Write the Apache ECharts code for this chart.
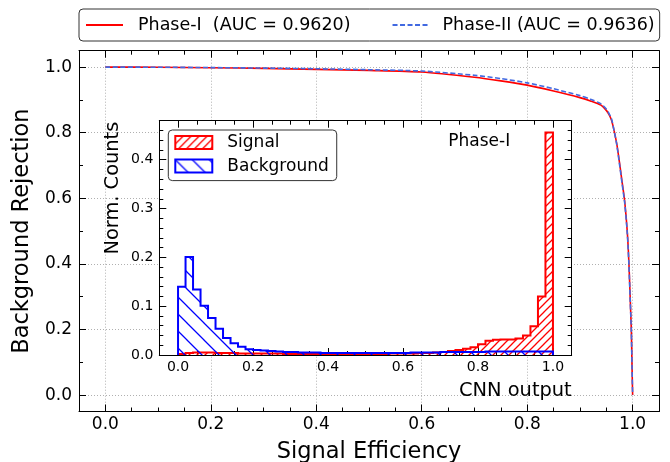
<!DOCTYPE html>
<html>
<head>
<meta charset="utf-8">
<script src="https://cdn.jsdelivr.net/npm/echarts@6/dist/echarts.min.js"></script>
<style>
html,body{margin:0;padding:0;background:#fff;}
#chart{width:670px;height:462px;}
</style>
</head>
<body>
<div id="chart"></div>
<script>
// ---------- DATA ----------
const rocEffPhase1 = [0, 0.1, 0.2, 0.3, 0.4, 0.5, 0.6, 0.7, 0.75, 0.8, 0.85, 0.9, 0.92, 0.94, 0.95, 0.955, 0.96, 0.965, 0.97, 0.975, 0.98, 0.985, 0.99, 0.993, 0.9955, 0.9975, 0.9988, 1.0];
const rocRejPhase1 = [1.0, 0.9995, 0.998, 0.996, 0.993, 0.990, 0.985, 0.969, 0.958, 0.945, 0.927, 0.907, 0.897, 0.884, 0.868, 0.856, 0.838, 0.805, 0.765, 0.71, 0.65, 0.59, 0.494, 0.40, 0.29, 0.20, 0.09, 0.0];
const rocEffPhase2 = [0, 0.1, 0.2, 0.3, 0.4, 0.5, 0.6, 0.7, 0.75, 0.8, 0.85, 0.9, 0.92, 0.94, 0.95, 0.955, 0.96, 0.965, 0.97, 0.975, 0.98, 0.985, 0.99, 0.993, 0.9955, 0.9975, 0.9988, 1.0];
const rocRejPhase2 = [1.0, 0.9996, 0.9985, 0.997, 0.995, 0.992, 0.988, 0.975, 0.965, 0.952, 0.934, 0.913, 0.902, 0.888, 0.872, 0.859, 0.842, 0.805, 0.763, 0.705, 0.645, 0.585, 0.49, 0.395, 0.285, 0.195, 0.088, 0.0];
const seriesNames = ['Phase-I  (AUC = 0.9620)', 'Phase-II (AUC = 0.9636)'];

const binWidth = 0.02; // 50 bins on [0,1]
const signalCounts = [
  0.002, 0.004, 0.005, 0.005, 0.005, 0.004, 0.004, 0.004, 0.003, 0.003,
  0.003, 0.003, 0.003, 0.003, 0.002, 0.002, 0.002, 0.002, 0.002, 0.002,
  0.002, 0.002, 0.002, 0.002, 0.002, 0.002, 0.002, 0.002, 0.003, 0.003,
  0.003, 0.003, 0.004, 0.004, 0.005, 0.006, 0.008, 0.010, 0.013, 0.016,
  0.022, 0.029, 0.031, 0.032, 0.032, 0.034, 0.040, 0.059, 0.120, 0.456
];
const backgroundCounts = [
  0.140, 0.201, 0.134, 0.101, 0.076, 0.054, 0.035, 0.024, 0.017, 0.012,
  0.010, 0.009, 0.008, 0.007, 0.006, 0.006, 0.005, 0.005, 0.005, 0.004,
  0.004, 0.004, 0.004, 0.004, 0.004, 0.004, 0.004, 0.004, 0.004, 0.004,
  0.004, 0.005, 0.005, 0.005, 0.005, 0.006, 0.006, 0.006, 0.006, 0.006,
  0.006, 0.007, 0.007, 0.007, 0.007, 0.007, 0.007, 0.007, 0.007, 0.007
];
const histNames = ['Signal', 'Background'];
const insetTag = 'Phase-I';
const axisTitles = {mainX: 'Signal Efficiency', mainY: 'Background Rejection', insetX: 'CNN output', insetY: 'Norm. Counts'};

// ---------- HELPERS ----------
function pairs(xs, ys){ return xs.map((x,i)=>[x, ys[i]]); }
function stepPoints(counts){
  const pts = [[0,0]];
  counts.forEach((c,i)=>{
    const x0 = +(i*binWidth).toFixed(4), x1 = +((i+1)*binWidth).toFixed(4);
    pts.push([x0, c]); pts.push([x1, c]);
  });
  pts.push([1, 0]);
  return pts;
}
function hatch(color, s, forward){
  const c = document.createElement('canvas');
  c.width = s; c.height = s;
  const ctx = c.getContext('2d');
  ctx.strokeStyle = color; ctx.lineWidth = 1.3;
  ctx.beginPath();
  if (forward){
    ctx.moveTo(-1, s+1); ctx.lineTo(s+1, -1);
    ctx.moveTo(-s/2-1, s/2+1); ctx.lineTo(s/2+1, -s/2-1);
    ctx.moveTo(s/2-1, s*1.5+1); ctx.lineTo(s*1.5+1, s/2-1);
  } else {
    ctx.moveTo(-1, -1); ctx.lineTo(s+1, s+1);
    ctx.moveTo(-s/2-1, s/2-1); ctx.lineTo(s/2+1, s*1.5+1);
    ctx.moveTo(s/2-1, -s/2-1); ctx.lineTo(s*1.5+1, s/2+1);
  }
  ctx.stroke();
  return {image: c, repeat: 'repeat'};
}
const redHatch = hatch('#ff0000', 8, true);
const blueHatch = hatch('#0000ff', 17, false);
const FONT = 'DejaVu Sans';

function fmt(step){
  return v => (Math.abs(v/step - Math.round(v/step)) < 1e-6) ? v.toFixed(1) : '';
}
const gridLine = {show:true, lineStyle:{color:'#b0b0b0', width:1, type:[1,2]}};
function axisBase(extra){
  return Object.assign({
    type:'value', splitNumber:5,
    axisLine:{show:true, onZero:false, lineStyle:{color:'#000', width:1}},
    axisTick:{show:true, inside:true, length:7, lineStyle:{color:'#000', width:1}},
    minorTick:{show:true, length:4, lineStyle:{color:'#000', width:1}},
    splitLine:{show:false}
  }, extra);
}
function histSeries(name, counts, color, pattern, z){
  const pts = stepPoints(counts);
  return {
    name, type:'custom', xAxisIndex:2, yAxisIndex:2, z,
    data:[[0, 0]], itemStyle:{color},
    renderItem:(params, api) => {
      const px = pts.map(p => api.coord(p));
      return {type:'group', children:[
        {type:'polygon', shape:{points:px}, style:{fill:pattern, stroke:null}},
        {type:'polyline', shape:{points:px}, style:{fill:null, stroke:color, lineWidth:2, lineJoin:'miter'}}
      ]};
    }
  };
}

const chart = echarts.init(document.getElementById('chart'), null, {renderer:'canvas'});
const option = {
  animation:false,
  textStyle:{fontFamily:FONT},
  grid:[
    {left:79, top:50.7, width:580, height:360.8, show:false, z:0, containLabel:false, outerBoundsMode:'none'},
    {left:159.3, top:120.7, width:412.4, height:234.3, show:true, backgroundColor:'#fff', borderWidth:0, z:10, containLabel:false, outerBoundsMode:'none'}
  ],
  xAxis:[
    axisBase({gridIndex:0, position:'bottom', min:-0.05, max:1.05,
      minorTick:{show:true, splitNumber:4, length:4, lineStyle:{color:'#000'}},
      splitLine:gridLine,
      axisLabel:{show:true, fontSize:17, color:'#000', margin:5, fontFamily:FONT, formatter:fmt(0.2)},
      name:axisTitles.mainX, nameLocation:'middle', nameGap:29,
      nameTextStyle:{fontSize:22.5, color:'#000', fontFamily:FONT}}),
    axisBase({gridIndex:0, position:'top', min:-0.05, max:1.05,
      minorTick:{show:true, splitNumber:4, length:4, lineStyle:{color:'#000'}},
      axisLabel:{show:false}}),
    axisBase({gridIndex:1, position:'bottom', min:-0.05, max:1.05, z:11,
      minorTick:{show:true, splitNumber:4, length:4, lineStyle:{color:'#000'}},
      axisLabel:{show:true, fontSize:14, color:'#000', margin:5, fontFamily:FONT, formatter:fmt(0.2)},
      name:axisTitles.insetX, nameLocation:'end', nameGap:0,
      nameTextStyle:{fontSize:19.4, color:'#000', fontFamily:FONT, align:'right', verticalAlign:'top', padding:[26,0,0,0]}}),
    axisBase({gridIndex:1, position:'top', min:-0.05, max:1.05, z:11,
      minorTick:{show:true, splitNumber:4, length:4, lineStyle:{color:'#000'}},
      axisLabel:{show:false}})
  ],
  yAxis:[
    axisBase({gridIndex:0, position:'left', min:-0.05, max:1.05,
      minorTick:{show:true, splitNumber:2, length:4, lineStyle:{color:'#000'}},
      splitLine:gridLine,
      axisLabel:{show:true, fontSize:17, color:'#000', margin:7, fontFamily:FONT, formatter:fmt(0.2)},
      name:axisTitles.mainY, nameLocation:'middle', nameGap:37,
      nameTextStyle:{fontSize:22.5, color:'#000', fontFamily:FONT}}),
    axisBase({gridIndex:0, position:'right', min:-0.05, max:1.05,
      minorTick:{show:true, splitNumber:2, length:4, lineStyle:{color:'#000'}},
      axisLabel:{show:false}}),
    axisBase({gridIndex:1, position:'left', min:0, max:0.48, z:11,
      minorTick:{show:true, splitNumber:5, length:4, lineStyle:{color:'#000'}},
      axisLabel:{show:true, fontSize:14, color:'#000', margin:6, fontFamily:FONT, formatter:fmt(0.1)}}),
    axisBase({gridIndex:1, position:'right', min:0, max:0.48, z:11,
      minorTick:{show:true, splitNumber:5, length:4, lineStyle:{color:'#000'}},
      axisLabel:{show:false}})
  ],
  legend:[
    {
      left:79, top:9, orient:'horizontal', padding:[7,5,7,6],
      itemWidth:37, itemHeight:14, itemGap:41,
      borderColor:'#333', borderWidth:1, borderRadius:4, backgroundColor:'#fff',
      textStyle:{fontSize:17.5, color:'#000', fontFamily:FONT, padding:[0,0,0,10]},
      data:[
        {name:seriesNames[0], itemStyle:{opacity:0}},
        {name:seriesNames[1], itemStyle:{opacity:0}, textStyle:{padding:[0,0,0,8]}}
      ]
    },
    {
      left:168.3, top:130, orient:'vertical', padding:[4,8,6,6], z:20,
      itemWidth:37, itemHeight:13, itemGap:6.6,
      borderColor:'#333', borderWidth:1, borderRadius:4, backgroundColor:'#fff',
      textStyle:{fontSize:17, color:'#000', fontFamily:FONT, padding:[0,0,0,10]},
      data:[
        {name:histNames[0], icon:'rect', itemStyle:{color:redHatch, borderColor:'#ff0000', borderWidth:2}},
        {name:histNames[1], icon:'rect', itemStyle:{color:blueHatch, borderColor:'#0000ff', borderWidth:2}}
      ]
    }
  ],
  graphic:[
    {type:'text', left:448.3, top:133, z:20,
      style:{text:insetTag, fontSize:17, fontFamily:FONT, fill:'#000'}},
    {type:'text', x:113, y:121.7, rotation:Math.PI/2, z:20,
      style:{text:axisTitles.insetY, fontSize:19.4, fontFamily:FONT, fill:'#000', align:'right', verticalAlign:'middle'}}
  ],
  series:[
    {name:seriesNames[0], type:'line', xAxisIndex:0, yAxisIndex:0, data:pairs(rocEffPhase1, rocRejPhase1),
      showSymbol:false, symbol:'none', smooth:0.25, z:2,
      lineStyle:{color:'#ff0000', width:1.6}, itemStyle:{color:'#ff0000'}},
    {name:seriesNames[1], type:'line', xAxisIndex:0, yAxisIndex:0, data:pairs(rocEffPhase2, rocRejPhase2),
      showSymbol:false, symbol:'none', smooth:0.25, z:3,
      lineStyle:{color:'#4169e1', width:1.6, type:[5,2.5]}, itemStyle:{color:'#4169e1'}},
    histSeries(histNames[0], signalCounts, '#ff0000', redHatch, 12),
    histSeries(histNames[1], backgroundCounts, '#0000ff', blueHatch, 13)
  ]
};
chart.setOption(option);
</script>
</body>
</html>
